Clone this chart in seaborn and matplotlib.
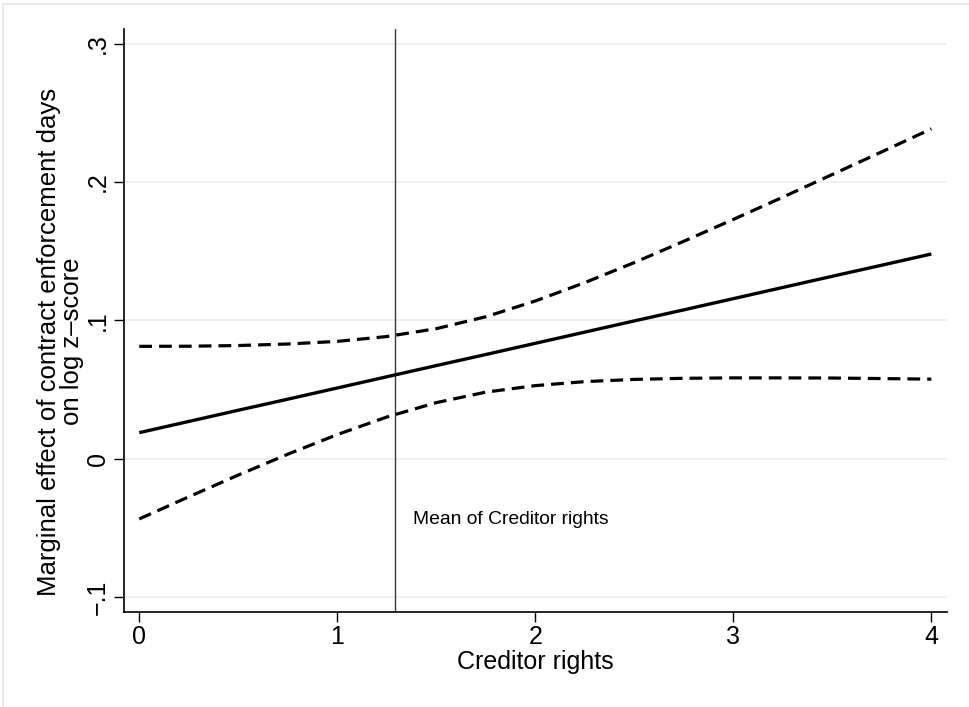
import matplotlib
matplotlib.use("Agg")
import matplotlib.pyplot as plt
import seaborn as sns
import pandas as pd
from matplotlib.patches import Rectangle

# Marginal effect of contract enforcement days on log z-score, by creditor rights
creditor_rights = [0.0, 0.25, 0.5, 0.75, 1.0, 1.25, 1.5, 1.75, 2.0,
                   2.25, 2.5, 2.75, 3.0, 3.25, 3.5, 3.75, 4.0]
marginal_effect = [0.0188, 0.0269, 0.0350, 0.0430, 0.0511, 0.0592, 0.0673, 0.0753, 0.0834,
                   0.0915, 0.0996, 0.1076, 0.1157, 0.1238, 0.1319, 0.1399, 0.1480]
upper_ci = [0.0812, 0.0813, 0.0818, 0.0829, 0.0848, 0.0883, 0.0940, 0.1026, 0.1140,
            0.1273, 0.1418, 0.1572, 0.1730, 0.1891, 0.2055, 0.2219, 0.2385]
lower_ci = [-0.0436, -0.0276, -0.0119, 0.0032, 0.0174, 0.0301, 0.0405, 0.0481, 0.0528,
            0.0557, 0.0573, 0.0581, 0.0584, 0.0584, 0.0583, 0.0579, 0.0575]
mean_creditor_rights = 1.293

x_ticks = [0, 1, 2, 3, 4]
x_tick_labels = ["0", "1", "2", "3", "4"]
y_ticks = [-0.1, 0.0, 0.1, 0.2, 0.3]
y_tick_labels = ["\u2212.1", "0", ".1", ".2", ".3"]

df = pd.DataFrame({
    "cr": creditor_rights,
    "me": marginal_effect,
    "hi": upper_ci,
    "lo": lower_ci,
})

sns.set_theme(style="white")
plt.rcParams["font.family"] = ["Liberation Sans", "DejaVu Sans"]

fig = plt.figure(figsize=(9.7, 7.07), dpi=100)
fig.patch.set_facecolor("white")
ax = fig.add_axes([124 / 970, 1 - 612 / 707, (947 - 124) / 970, (612 - 29) / 707])

# light outer frame of the graph region
fig.patches.append(Rectangle((3 / 970, -0.05), 1.1, 1 - 4 / 707 + 0.05,
                             transform=fig.transFigure, fill=False,
                             edgecolor="#e6e6e6", linewidth=1.2, zorder=0))

for yv in y_ticks:
    ax.axhline(yv, color="#eeeeee", linewidth=1.3, zorder=0)

sns.lineplot(data=df, x="cr", y="me", ax=ax, color="black", linewidth=2.4,
             solid_capstyle="butt", zorder=3)
sns.lineplot(data=df, x="cr", y="hi", ax=ax, color="black", linewidth=2.3,
             zorder=3).lines[-1].set_dashes((4.0, 2.2))
sns.lineplot(data=df, x="cr", y="lo", ax=ax, color="black", linewidth=2.3,
             zorder=3).lines[-1].set_dashes((4.0, 2.2))

ax.axvline(mean_creditor_rights, color="#3a3a3a", linewidth=1.0, zorder=2)
ax.text(1.382, -0.0443, "Mean of Creditor rights", fontsize=13.9,
        ha="left", va="center", color="black")

ax.set_xlim(-0.077, 4.079)
ax.set_ylim(-0.1109, 0.3107)
ax.set_xticks(x_ticks)
ax.set_xticklabels(x_tick_labels)
ax.set_yticks(y_ticks)
ax.set_yticklabels(y_tick_labels, rotation=90, va="center")

ax.tick_params(axis="both", direction="out", length=7, width=1.0,
               color="black", labelsize=18, labelcolor="black",
               left=True, bottom=True)
ax.tick_params(axis="y", pad=3)
ax.tick_params(axis="x", pad=2)

for side in ["top", "right"]:
    ax.spines[side].set_visible(False)
for side in ["left", "bottom"]:
    ax.spines[side].set_color("black")
    ax.spines[side].set_linewidth(1.2)

ax.set_xlabel("Creditor rights", fontsize=18, color="black", labelpad=1)
ax.set_ylabel("Marginal effect of contract enforcement days\non log z\u2013score",
              fontsize=18.5, color="black", labelpad=1, linespacing=0.95)
ax.yaxis.set_label_coords(-0.049, 0.464)

fig.savefig("out.png", dpi=100, facecolor="white")
